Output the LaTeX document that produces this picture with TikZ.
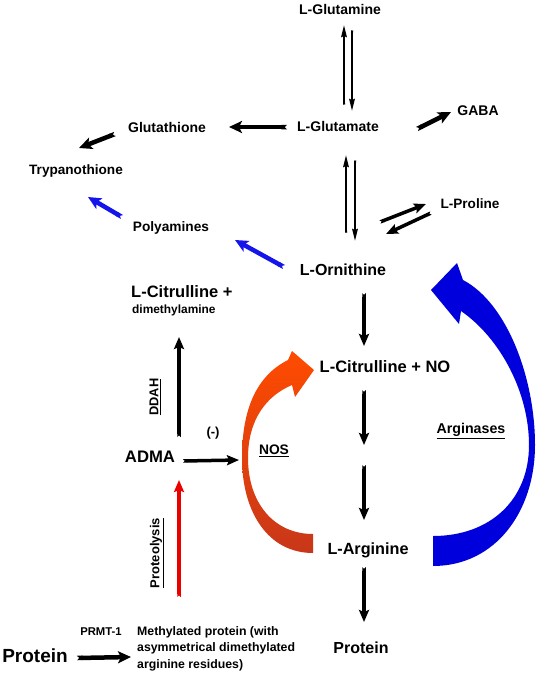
\documentclass[tikz,border=0pt]{standalone}
\usepackage{fontspec}
\setmainfont{Liberation Sans}
\usetikzlibrary{arrows.meta}
\definecolor{smallblue}{RGB}{20,20,235}
\definecolor{bigblue}{RGB}{0,0,220}
\definecolor{orangetop}{RGB}{255,75,0}
\definecolor{orangebot}{RGB}{200,55,25}
\definecolor{myred}{RGB}{235,0,0}
\tikzset{
  lab/.style={font=\bfseries\fontsize{#1}{#1}\selectfont, inner sep=0pt},
  thinarr/.style={line width=2pt, {Triangle Cap[reversed]}-{Stealth[length=12pt,width=5.5pt,inset=1pt]}},
  midarr/.style={line width=3.5pt, {Triangle Cap[reversed]}-{Stealth[length=12pt,width=10pt,inset=2pt]}},
  fatarr/.style={line width=4.5pt, {Triangle Cap[reversed]}-{Stealth[length=13pt,width=12pt,inset=3pt]}},
}
\begin{document}
\begin{tikzpicture}[x=1pt,y=-1pt]
\useasboundingbox[fill=white] (0,0) rectangle (537,675);

% ---------- nodes ----------
\node[lab=14] (gln)  at (340,9)   {L-Glutamine};
\node[lab=14] (glu)  at (338,126) {L-Glutamate};
\node[lab=14] (gsh)  at (167,127) {Glutathione};
\node[lab=14] (gaba) at (478,111) {GABA};
\node[lab=13.6] (tryp) at (76,171) {Trypanothione};
\node[lab=13.6] (pro)  at (470,204) {L-Proline};
\node[lab=13.7] (poly) at (171,228) {Polyamines};
\node[lab=16] (orn)  at (343,270) {L-Ornithine};
\node[lab=16.5,anchor=west] (citp) at (131,292) {L-Citrulline +};
\node[lab=11.9,anchor=west] (dma)  at (132,310) {dimethylamine};
\node[lab=16.5] (citno) at (385,367) {L-Citrulline + NO};
\node[lab=12.8,rotate=90] (ddah) at (155,397) {\underline{DDAH}};
\node[lab=13] (minus) at (213,433) {(-)};
\node[lab=14.2] (argase) at (471,431) {\underline{Arginases}};
\node[lab=13.8] (nos) at (274,451) {\underline{NOS}};
\node[lab=16.7] (adma) at (150,457) {ADMA};
\node[lab=16.2] (arg) at (368,550) {L-Arginine};
\node[lab=13,rotate=90] (proteo) at (157,553) {\underline{Proteolysis}};
\node[lab=11.3] (prmt) at (101,632) {PRMT-1};
\node[lab=12.3,anchor=north west,align=left,font=\bfseries\fontsize{12.3}{16.5}\selectfont] (meth) at (137,626)
  {Methylated protein (with\\asymmetrical dimethylated\\arginine residues)};
\node[lab=19] (protL) at (35,656) {Protein};
\node[lab=16] (protR) at (361,648) {Protein};

% ---------- arrow end points ----------
\coordinate (a1s) at (344,105); \coordinate (a1e) at (344,25);
\coordinate (a2s) at (352,30);  \coordinate (a2e) at (352,111);
\coordinate (b1s) at (346,233); \coordinate (b1e) at (346,155);
\coordinate (b2s) at (355,160); \coordinate (b2e) at (355,241);
\coordinate (cs) at (287,127);  \coordinate (ce) at (229,127);
\coordinate (ds) at (115,134);  \coordinate (de) at (79,148);
\coordinate (es) at (417,129);  \coordinate (ee) at (451,112);
\coordinate (fs) at (380,222);  \coordinate (fe) at (426,204);
\coordinate (gs) at (431,213);  \coordinate (ge) at (386,234);
\coordinate (hs) at (122,217);  \coordinate (he) at (88,197);
\coordinate (is) at (284,267);  \coordinate (ie) at (235,240);
\coordinate (js) at (364,293);  \coordinate (je) at (364,346);
\coordinate (k1s) at (364,390); \coordinate (k1e) at (364,445);
\coordinate (k2s) at (364,465); \coordinate (k2e) at (364,520);
\coordinate (ls) at (364,567);  \coordinate (le) at (364,622);
\coordinate (ms) at (179,437);  \coordinate (me) at (179,337);
\coordinate (ns) at (183,461);  \coordinate (ne) at (239,460);
\coordinate (os) at (179,597);  \coordinate (oe) at (179,480);
\coordinate (ps) at (77,658);   \coordinate (pe) at (131,657);

% ---------- small arrows ----------
\draw[thinarr] (a1s) -- (a1e);
\draw[thinarr] (a2s) -- (a2e);
\draw[thinarr] (b1s) -- (b1e);
\draw[thinarr] (b2s) -- (b2e);
\draw[fatarr] (cs) -- (ce);
\draw[fatarr] (ds) -- (de);
\draw[fatarr] (es) -- (ee);
\draw[midarr] (fs) -- (fe);
\draw[midarr] (gs) -- (ge);
\draw[fatarr,smallblue] (hs) -- (he);
\draw[fatarr,smallblue] (is) -- (ie);
\draw[midarr] (js) -- (je);
\draw[midarr] (k1s) -- (k1e);
\draw[midarr] (k2s) -- (k2e);
\draw[midarr] (ls) -- (le);
\draw[midarr] (ms) -- (me);
\draw[midarr] (ns) -- (ne);
\draw[midarr,myred] (os) -- (oe);
\draw[fatarr] (ps) -- (pe);

% ---------- big curved arrows ----------
\shade[top color=orangetop, bottom color=orangebot]
  (313,553) .. controls (268,553) and (242,512) .. (242,458)
  .. controls (242,410) and (256,376) .. (288,360)
  -- (292,351) -- (314,370) -- (295,397) -- (292,385)
  .. controls (266,396) and (248,420) .. (248,458)
  .. controls (248,503) and (274,534) .. (313,534) -- cycle;

\fill[bigblue]
  (433,566) .. controls (495,566) and (535,512) .. (535,445)
  .. controls (535,378) and (507,303) .. (463,280)
  -- (457,263) -- (431,290) -- (459,324) -- (461,311)
  .. controls (500,338) and (529,392) .. (529,445)
  .. controls (529,500) and (490,536) .. (433,536) -- cycle;
\end{tikzpicture}
\end{document}
